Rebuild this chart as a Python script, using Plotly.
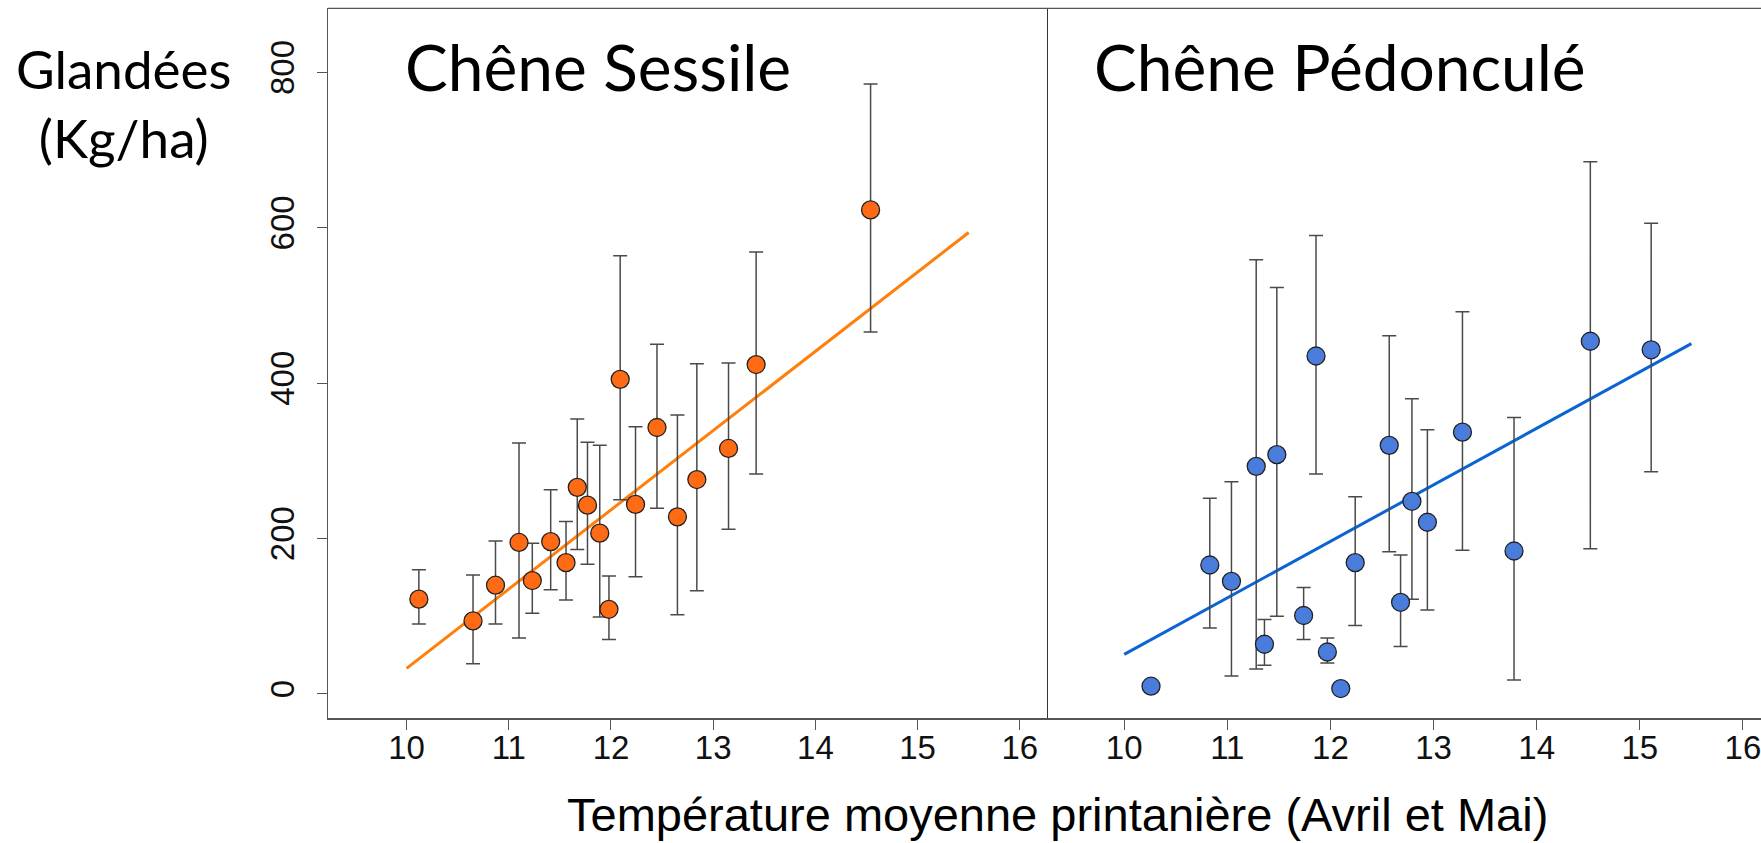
import plotly.graph_objects as go

# ---- data: Chêne Sessile (orange) ----
ses_temp = [10.12, 10.65, 10.87, 11.10, 11.23, 11.41, 11.56, 11.67, 11.77, 11.89,
            11.98, 12.09, 12.24, 12.45, 12.65, 12.84, 13.15, 13.42, 14.54]
ses_val = [122, 94, 140, 195, 146, 196, 169, 266, 243, 207,
           109, 405, 244, 343, 228, 276, 316, 424, 623]
ses_hi = [160, 153, 197, 323, 194, 263, 222, 354, 324, 320,
          152, 564, 344, 450, 359, 425, 426, 569, 785]
ses_lo = [90, 39, 90, 72, 104, 134, 121, 186, 167, 99,
          70, 250, 151, 239, 102, 133, 212, 283, 466]
ses_fit_x = [10.0, 15.5]
ses_fit_y = [33, 594]

# ---- data: Chêne Pédonculé (blue) ----
ped_temp = [10.26, 10.83, 11.04, 11.28, 11.36, 11.48, 11.74, 11.86, 11.97, 12.10,
            12.24, 12.57, 12.68, 12.79, 12.94, 13.28, 13.78, 14.52, 15.11]
ped_val = [10, 166, 145, 293, 64, 308, 101, 435, 54, 7,
           169, 320, 118, 248, 221, 337, 184, 454, 443]
ped_hi = [10, 252, 273, 559, 96, 523, 137, 590, 72, 7,
          254, 461, 179, 380, 340, 492, 356, 685, 606]
ped_lo = [10, 85, 23, 32, 37, 100, 70, 283, 40, 7,
          88, 183, 61, 122, 108, 185, 18, 187, 286]
ped_fit_x = [10.0, 15.5]
ped_fit_y = [51, 451]

x_ticks = [10, 11, 12, 13, 14, 15, 16]
y_ticks = [0, 200, 400, 600, 800]

W, H = 1761, 843
ORANGE_FILL = "#FF6A14"
ORANGE_LINE = "#FF7F0A"
BLUE_FILL = "#4A7DDB"
BLUE_LINE = "#0B64D2"
AXIS_COL = "#555555"

def err(vals, hi, lo):
    up = [h - v for h, v in zip(hi, vals)]
    dn = [v - l for v, l in zip(vals, lo)]
    return up, dn

fig = go.Figure()

su, sd = err(ses_val, ses_hi, ses_lo)
pu, pd_ = err(ped_val, ped_hi, ped_lo)

fig.add_trace(go.Scatter(x=ses_fit_x, y=ses_fit_y, mode="lines",
                         line=dict(color=ORANGE_LINE, width=3),
                         xaxis="x", yaxis="y", showlegend=False))
fig.add_trace(go.Scatter(x=ses_temp, y=ses_val, mode="markers",
                         marker=dict(size=18, color=ORANGE_FILL,
                                     line=dict(color="#222222", width=1.3)),
                         error_y=dict(type="data", symmetric=False, array=su, arrayminus=sd,
                                      color="#4a4a4a", thickness=1.5, width=7),
                         xaxis="x", yaxis="y", showlegend=False))

fig.add_trace(go.Scatter(x=ped_fit_x, y=ped_fit_y, mode="lines",
                         line=dict(color=BLUE_LINE, width=3),
                         xaxis="x2", yaxis="y2", showlegend=False))
fig.add_trace(go.Scatter(x=ped_temp, y=ped_val, mode="markers",
                         marker=dict(size=18, color=BLUE_FILL,
                                     line=dict(color="#222222", width=1.3)),
                         error_y=dict(type="data", symmetric=False, array=pu, arrayminus=pd_,
                                      color="#4a4a4a", thickness=1.5, width=7),
                         xaxis="x2", yaxis="y2", showlegend=False))

x0 = 328 / W
xm = 1048 / W
y_bot = 1 - 718.3 / H
y_top = 1 - 8.3 / H
yr = [-31.3, 882.5]

tickfont = dict(family="Liberation Sans, Arial, sans-serif", size=33, color="#111111")

common_x = dict(tickmode="array", tickvals=x_ticks, ticks="outside", ticklen=10,
                tickwidth=1.2, tickcolor=AXIS_COL, showline=True, linecolor=AXIS_COL,
                linewidth=2, showgrid=False, zeroline=False, tickfont=tickfont,
                ticklabelstandoff=-11, ticklabeloverflow="allow", automargin=False)

fig.update_layout(
    width=W, height=H,
    margin=dict(l=0, r=0, t=0, b=0),
    paper_bgcolor="white", plot_bgcolor="white",
    xaxis=dict(domain=[x0, xm], range=[9.231, 16.276], anchor="y", **common_x),
    xaxis2=dict(domain=[xm, 1.0], range=[9.261, 16.175], anchor="y2", **common_x),
    yaxis=dict(domain=[y_bot, y_top], range=yr, anchor="x", tickmode="array",
               tickvals=y_ticks, ticks="outside", ticklen=10, tickwidth=1.2,
               tickcolor=AXIS_COL, showline=True, linecolor=AXIS_COL, linewidth=1.2,
               showgrid=False, zeroline=False, tickangle=-90, tickfont=tickfont,
               ticklabelstandoff=10, automargin=False),
    yaxis2=dict(domain=[y_bot, y_top], range=yr, anchor="x2", matches="y",
                showticklabels=False, ticks="", showline=True, linecolor="#333333",
                linewidth=1, showgrid=False, zeroline=False),
    shapes=[
        dict(type="line", xref="paper", yref="paper", x0=x0, x1=1.0, y0=y_top, y1=y_top,
             line=dict(color=AXIS_COL, width=1.2)),
    ],
    annotations=[
        dict(text="Chêne Sessile", xref="paper", yref="paper",
             x=403 / W, y=1 - 93 / H, xanchor="left", yanchor="bottom",
             yshift=-14, showarrow=False,
             font=dict(family="Lato, Carlito, sans-serif", size=64, color="#000000")),
        dict(text="Chêne Pédonculé", xref="paper", yref="paper",
             x=1092 / W, y=1 - 93 / H, xanchor="left", yanchor="bottom",
             yshift=-14, showarrow=False,
             font=dict(family="Lato, Carlito, sans-serif", size=64, color="#000000")),
        dict(text="Glandées<br>(Kg/ha)", xref="paper", yref="paper",
             x=124 / W, y=1 - 103 / H, xanchor="center", yanchor="middle",
             showarrow=False, align="center",
             font=dict(family="Lato, Carlito, sans-serif", size=53, color="#000000")),
        dict(text="Température moyenne printanière (Avril et Mai)", xref="paper", yref="paper",
             x=1057 / W, y=1 - 814 / H, xanchor="center", yanchor="middle",
             showarrow=False,
             font=dict(family="Liberation Sans, Arial, sans-serif", size=47, color="#000000")),
    ],
)

fig.write_html("out.html",
               config={"displayModeBar": False},
               post_script="document.body.style.margin='0';document.body.style.padding='0';"
                           "document.body.style.overflow='hidden';")
